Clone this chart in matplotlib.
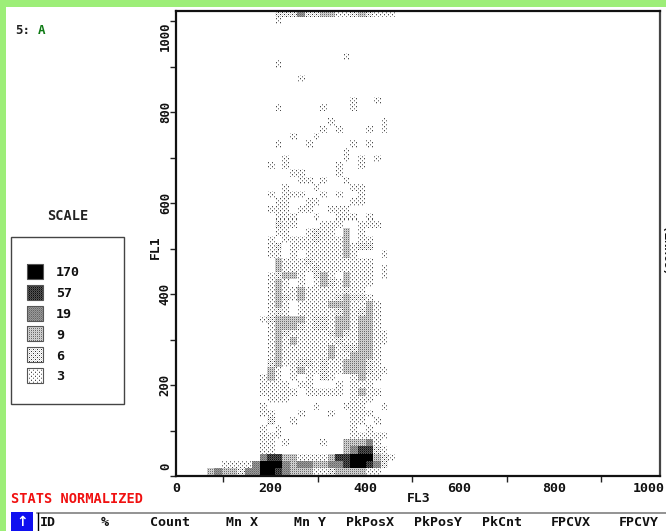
import numpy as np
import matplotlib
matplotlib.use('Agg')
import matplotlib.pyplot as plt
from matplotlib.patches import Rectangle
from matplotlib.transforms import ScaledTranslation

# scale legend, darkest first
scale_counts = [170, 57, 19, 9, 6, 3]
scale_levels = [6, 5, 4, 3, 2, 1]

x_ticks_labelled = [0, 200, 400, 600, 800, 1000]
x_ticks_minor = [100, 300, 500, 700, 900]
y_ticks = [0, 100, 200, 300, 400, 500, 600, 700, 800, 900, 1000]
y_tick_labels = ['0', '', '200', '', '400', '', '600', '', '800', '', '1000']

stats_columns = ['ID', '%', 'Count', 'Mn X', 'Mn Y', 'PkPosX', 'PkPosY',
                 'PkCnt', 'FPCVX', 'FPCVY']

# histogram levels per FL1 bin (0 = empty, 1..6 = scale classes),
# FL3 bins 4 to 28 of 64, 16 channels per bin
empty = '00000 00000 00000 00000 00000'
bin_63 = '00000 00002 22422 33112 32111'
bin_62 = '00000 00001 00000 00000 00000'
bin_61 = empty
bin_60 = empty
bin_59 = empty
bin_58 = empty
bin_57 = '00000 00000 00000 00010 00000'
bin_56 = '00000 00001 00000 00000 00000'
bin_55 = empty
bin_54 = '00000 00000 00100 00000 00000'
bin_53 = empty
bin_52 = empty
bin_51 = '00000 00000 00000 00001 00100'
bin_50 = '00000 00001 00000 10001 00000'
bin_49 = empty
bin_48 = '00000 00000 00000 01000 00010'
bin_47 = '00000 00000 00000 10100 01010'
bin_46 = '00000 00000 01001 00000 00000'
bin_45 = '00000 00001 00010 00001 01000'
bin_44 = '00000 00000 00000 00010 00000'
bin_43 = '00000 00000 10000 00010 10100'
bin_42 = '00000 00010 10000 00100 10000'
bin_41 = '00000 00000 01100 00100 00000'
bin_40 = '00000 00000 00110 10010 00000'
bin_39 = '00000 00000 10001 00001 10000'
bin_38 = '00000 00010 11100 10100 10000'
bin_37 = '00000 00001 10011 00001 10000'
bin_36 = '00000 00011 10110 01110 00000'
bin_35 = '00000 00001 11001 00111 01000'
bin_34 = '00000 00002 11000 11100 11100'
bin_33 = '00000 00001 10012 11030 10000'
bin_32 = '00000 00010 11112 11130 11000'
bin_31 = '00000 00012 01111 11131 22000'
bin_30 = '00000 00011 01011 11131 00010'
bin_29 = '00000 00003 11121 11111 11000'
bin_28 = '00000 00003 11112 11111 11010'
bin_27 = '00000 00012 33102 31031 11010'
bin_26 = '00000 00013 10101 32131 11000'
bin_25 = '00000 00013 11311 11121 10000'
bin_24 = '00000 00013 21311 11232 21000'
bin_23 = '00000 00013 10111 13331 13100'
bin_22 = '00000 00012 10111 11231 23100'
bin_21 = '00000 00123 33312 21331 33100'
bin_20 = '00000 00013 33212 21331 33100'
bin_19 = '00000 00013 21111 12321 33110'
bin_18 = '00000 00013 13111 11211 33110'
bin_17 = '00000 00013 11111 13122 33100'
bin_16 = '00000 00013 11111 13113 33100'
bin_15 = '00000 00023 11221 21133 32100'
bin_14 = '00000 00031 01311 21133 32110'
bin_13 = '00000 00131 01010 21001 31100'
bin_12 = '00000 00111 10110 00101 11000'
bin_11 = '00000 00111 11011 11101 31100'
bin_10 = '00000 00011 10000 00001 11000'
bin_09 = '00000 00100 00001 00011 10010'
bin_08 = '00000 00110 00100 01001 11000'
bin_07 = '00000 00020 01000 00001 10100'
bin_06 = '00000 00101 00000 00001 01000'
bin_05 = '00000 00111 00000 00001 11110'
bin_04 = '00000 00110 10000 10033 34100'
bin_03 = '00000 00110 00000 00034 55210'
bin_02 = '00000 00455 33111 13556 66321'
bin_01 = '00111 14666 43443 34456 65420'
bin_00 = '34332 44665 43331 12333 31100'

fl1_bins = [bin_00, bin_01, bin_02, bin_03, bin_04, bin_05, bin_06, bin_07,
            bin_08, bin_09, bin_10, bin_11, bin_12, bin_13, bin_14, bin_15,
            bin_16, bin_17, bin_18, bin_19, bin_20, bin_21, bin_22, bin_23,
            bin_24, bin_25, bin_26, bin_27, bin_28, bin_29, bin_30, bin_31,
            bin_32, bin_33, bin_34, bin_35, bin_36, bin_37, bin_38, bin_39,
            bin_40, bin_41, bin_42, bin_43, bin_44, bin_45, bin_46, bin_47,
            bin_48, bin_49, bin_50, bin_51, bin_52, bin_53, bin_54, bin_55,
            bin_56, bin_57, bin_58, bin_59, bin_60, bin_61, bin_62, bin_63]

FIRST_FL3_BIN = 4
N_BINS = 64

# 4x4 dither for each class, grey values
W = 1.0
DITHER = np.array([
    [[W, W, W, W], [W, W, W, W], [W, W, W, W], [W, W, W, W]],
    [[0.3, W, W, W], [W, W, 0.8, W], [W, W, 0.5, W], [0.8, W, W, W]],
    [[0.2, W, 0.75, W], [W, 0.9, W, 0.9], [0.75, W, 0.2, W], [W, 0.9, W, 0.9]],
    [[0.4, 0.85, 0.45, 0.85], [0.8, 0.78, 0.8, 0.78], [0.45, 0.85, 0.4, 0.85], [0.8, 0.78, 0.8, 0.78]],
    [[0.4, 0.6, 0.4, 0.6], [0.6, 0.5, 0.6, 0.5], [0.4, 0.6, 0.4, 0.6], [0.6, 0.5, 0.6, 0.5]],
    [[0.05, 0.35, 0.05, 0.35], [0.3, 0.2, 0.3, 0.2], [0.05, 0.35, 0.05, 0.35], [0.3, 0.2, 0.3, 0.2]],
    [[0, 0, 0, 0], [0, 0, 0, 0], [0, 0, 0, 0], [0, 0, 0, 0]],
])


def _levels():
    grid = np.zeros((N_BINS, N_BINS), dtype=int)
    for j, row in enumerate(fl1_bins):
        vals = [int(c) for c in row.replace(' ', '')]
        grid[j, FIRST_FL3_BIN:FIRST_FL3_BIN + len(vals)] = vals
    return grid


def _dither_image(grid, width, height):
    px = np.arange(width)
    py = np.arange(height)
    cell_x = px * grid.shape[1] // width
    cell_y = py * grid.shape[0] // height
    lev = grid[np.ix_(cell_y, cell_x)]
    yy, xx = np.meshgrid(py % 4, px % 4, indexing='ij')
    return DITHER[lev, yy, xx]


fig = plt.figure(figsize=(6.66, 5.31), dpi=100, facecolor='white')
plt.rcParams['font.family'] = ['DejaVu Sans Mono']
plt.rcParams['font.weight'] = 'bold'

# page layer in pixel coordinates
page = fig.add_axes([0, 0, 1, 1])
page.axis('off')
page.add_patch(Rectangle((0, 0), 666, 7, fc='#9DEE78', ec='none'))
page.add_patch(Rectangle((0, 0), 6, 531, fc='#9DEE78', ec='none'))

page.text(15, 31, '5:', fontsize=9, color='#222222', va='center')
page.text(38, 31, 'A', fontsize=9, color='#0E7A14', va='center')
page.text(68, 216, 'SCALE', fontsize=9.8, color='#222222', ha='center', va='center')
page.add_patch(Rectangle((11, 237), 113, 167, fc='white', ec='#444444', lw=1.0))

for i, (count, level) in enumerate(zip(scale_counts, scale_levels)):
    top = 264 + i * 20.8
    page.imshow(_dither_image(np.array([[level]]), 16, 15), cmap='gray', vmin=0, vmax=1,
                extent=[27, 43, top + 15, top], interpolation='nearest', aspect='auto', zorder=3)
    page.add_patch(Rectangle((27, top), 16, 15, fc='none', ec='#555555', lw=0.8, zorder=4))
    page.text(56, top + 9, str(count), fontsize=9.6, color='#111111', va='center')
page.set_xlim(0, 666)
page.set_ylim(531, 0)

page.text(11, 499, 'STATS NORMALIZED', fontsize=9.8, color='#F01010', va='center')
page.add_patch(Rectangle((11, 512), 22, 19, fc='#1010F0', ec='none'))
page.text(22, 522, '\u2191', fontsize=10, color='white', ha='center', va='center',
          family='DejaVu Sans', fontweight='bold')
page.plot([37, 666], [513, 513], color='#808080', lw=1.2)
page.plot([38, 38], [513, 531], color='black', lw=1.0)
col_x = [48, 105, 170, 242, 310, 370, 438, 502, 571, 639]
for name, cx in zip(stats_columns, col_x):
    page.text(cx, 523, name, fontsize=9.6, color='#111111', ha='center', va='center')

page.text(669, 247, '(COUNT)', fontsize=8.8, rotation=90, color='#111111',
          ha='center', va='center', clip_on=False)

# dot plot
ax = fig.add_axes([176 / 666, 1 - 476 / 531, 484 / 666, 465 / 531])
ax.patch.set_alpha(0)
ax.imshow(_dither_image(_levels(), 484, 465), cmap='gray', vmin=0, vmax=1, origin='lower',
          extent=[0, 1024, 0, 1024], interpolation='nearest', aspect='auto')
ax.set_xlim(0, 1024)
ax.set_ylim(0, 1022)

ax.set_xticks(x_ticks_labelled)
ax.set_xticklabels([str(v) for v in x_ticks_labelled], fontsize=9.6, color='#111111')
ax.set_xticks(x_ticks_minor, minor=True)
ax.tick_params(axis='x', which='major', length=0, pad=4)
ax.tick_params(axis='x', which='minor', length=4, width=1.0, color='#222222')

ax.set_yticks(y_ticks)
ax.set_yticklabels(y_tick_labels, fontsize=8.8, rotation=90, va='center', color='#111111')
ax.tick_params(axis='y', length=4, width=1.0, color='#222222', pad=-1)
ax.get_yticklabels()[0].set_va('bottom')
ax.get_yticklabels()[0].set_transform(
    ax.get_yticklabels()[0].get_transform() + ScaledTranslation(0, 4 / 72, fig.dpi_scale_trans))
ax.get_yticklabels()[-1].set_va('top')

for spine in ax.spines.values():
    spine.set_linewidth(1.6)
    spine.set_color('#111111')
ax.spines['right'].set_color('#444444')

page.text(419, 499, 'FL3', fontsize=9.4, color='#111111', ha='center', va='center')
page.text(155, 247, 'FL1', fontsize=9.4, color='#111111', rotation=90, ha='center', va='center')

fig.savefig('out.png', dpi=100)
